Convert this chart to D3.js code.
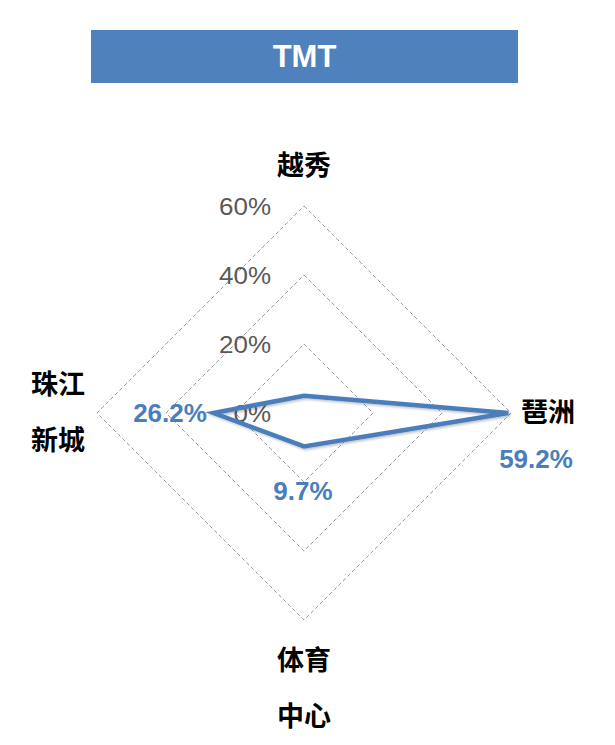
<!DOCTYPE html>
<html><head><meta charset="utf-8">
<script src="https://cdn.jsdelivr.net/npm/d3@7"></script>
<style>body{margin:0;background:#fff;}</style>
</head><body>
<svg id="c" width="615" height="745"></svg>
<script>
const title = "TMT";
const categories = [["越秀"], ["琶洲"], ["体育", "中心"], ["珠江", "新城"]];
const values = [0.05, 0.592, 0.097, 0.262];
const valueLabels = ["", "59.2%", "9.7%", "26.2%"];
const ticks = [0, 0.2, 0.4, 0.6];
const tickLabels = ["0%", "20%", "40%", "60%"];

const svg = d3.select("#c");
const cx = 304, cy = 413, R = 207;
const r = d3.scaleLinear().domain([0, 0.6]).range([0, R]);
const ang = d3.scaleLinear().domain([0, categories.length]).range([0, 2 * Math.PI]);
const pt = (i, v) => [cx + r(v) * Math.sin(ang(i)), cy - r(v) * Math.cos(ang(i))];

// title bar
svg.append("rect").attr("x", 91).attr("y", 30).attr("width", 427).attr("height", 53).attr("fill", "#4f81bd");
svg.append("text").attr("x", 304.5).attr("y", 67).attr("text-anchor", "middle")
  .attr("font-family", "Liberation Sans, Arial, sans-serif").attr("font-weight", "bold")
  .attr("font-size", 31).attr("fill", "#fff").text(title);

// grid
ticks.slice(1).forEach(t => {
  const pts = categories.map((c, i) => pt(i, t));
  svg.append("polygon").attr("points", pts.map(p => p.join(",")).join(" "))
    .attr("fill", "none").attr("stroke", "#9a9a9a").attr("stroke-width", 1).attr("stroke-dasharray", "4,2.5");
});

// tick labels
ticks.forEach((t, i) => {
  svg.append("g").attr("transform", `translate(271,${cy - r(t) + 8.5}) scale(1.13,1)`)
    .append("text").attr("text-anchor", "end")
    .attr("font-family", "Liberation Sans, Arial, sans-serif").attr("font-size", 23)
    .attr("fill", "#595959").text(tickLabels[i]);
});

// data line
const defs = svg.append("defs");
const f = defs.append("filter").attr("id", "sh").attr("x", "-10%").attr("y", "-10%").attr("width", "120%").attr("height", "120%");
f.append("feDropShadow").attr("dx", 1.5).attr("dy", 1.5).attr("stdDeviation", 1.2).attr("flood-color", "#000").attr("flood-opacity", 0.25);
const line = d3.line().curve(d3.curveLinearClosed);
svg.append("path").attr("d", line(values.map((v, i) => pt(i, v))))
  .attr("fill", "none").attr("stroke", "#4a7ebb").attr("stroke-width", 4.5)
  .attr("stroke-linejoin", "miter").attr("filter", "url(#sh)");

// category labels
const catPos = [[304, 175], [548, 422], [304, 670], [58, 394]];
categories.forEach((c, i) => {
  c.forEach((s, j) => {
    svg.append("text").attr("x", catPos[i][0]).attr("y", catPos[i][1] + j * 56)
      .attr("text-anchor", "middle").attr("font-family", "Noto Sans CJK SC, sans-serif")
      .attr("font-weight", "bold").attr("font-size", 27).attr("fill", "#000").text(s);
  });
});

// value labels
const valPos = [null, [536, 468], [303, 500], [170, 422]];
values.forEach((v, i) => {
  if (!valueLabels[i]) return;
  svg.append("text").attr("x", valPos[i][0]).attr("y", valPos[i][1]).attr("text-anchor", "middle")
    .attr("font-family", "Liberation Sans, Arial, sans-serif").attr("font-weight", "bold")
    .attr("font-size", 26).attr("fill", "#4a7ebb").text(valueLabels[i]);
});
</script>
</body></html>
